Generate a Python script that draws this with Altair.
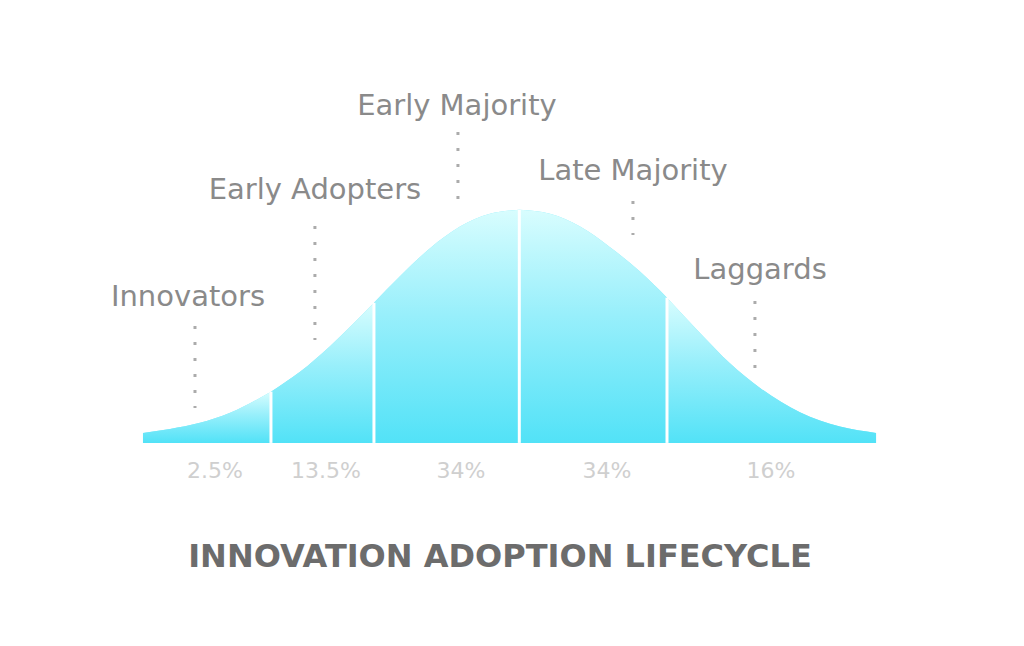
import altair as alt
import pandas as pd

# Bell curve: position in standard deviations, height as % of peak
curve_x = [-2.576, -2.391, -2.186, -1.980, -1.700, -1.501, -1.296, -0.995, -0.817, -0.611,
           -0.406, -0.201, 0.0, 0.210, 0.416, 0.621, 0.826, 1.011, 1.237, 1.442,
           1.648, 1.921, 2.195, 2.442]
curve_h = [4.3, 6.0, 8.6, 12.9, 22.0, 30.5, 41.5, 60.1, 71.5, 83.5,
           92.8, 98.3, 100.0, 98.3, 92.8, 84.0, 73.5, 62.3, 47.2, 34.2,
           23.6, 13.2, 7.0, 4.3]

segments = ["Innovators", "Early Adopters", "Early Majority", "Late Majority", "Laggards"]
bounds = [-2.576, -1.700, -0.995, 0.0, 1.011, 2.442]
shares = ["2.5%", "13.5%", "34%", "34%", "16%"]

# annotation layout (data units)
label_x = [-2.268, -1.399, -0.427, 0.778, 1.648]
label_y = [58.7, 104.7, 140.7, 112.8, 70.3]
leader_x = [-2.220, -1.399, -0.420, 0.778, 1.613]
leader_top = [50.2, 93.1, 133.4, 103.8, 60.9]
leader_bottom = [15.0, 44.2, 104.2, 89.2, 31.7]
share_x = [-2.083, -1.323, -0.399, 0.600, 1.723]
share_y = -15.0
title_text = "INNOVATION ADOPTION LIFECYCLE"
title_x = -0.132
title_y = -53.2

rows = []
for i, seg in enumerate(segments):
    lo, hi = bounds[i], bounds[i + 1]
    for x, h in zip(curve_x, curve_h):
        if lo - 1e-9 <= x <= hi + 1e-9:
            rows.append({"segment": seg, "seg_idx": i, "x": x, "h": h, "base": 0.0})
curve_df = pd.DataFrame(rows)

div_rows = []
for b in bounds[1:-1]:
    h = curve_h[min(range(len(curve_x)), key=lambda k: abs(curve_x[k] - b))]
    div_rows.append({"x": b, "h": h, "base": 0.0})
div_df = pd.DataFrame(div_rows)

lab_df = pd.DataFrame({"label": segments, "x": label_x, "y": label_y})
lead_df = pd.DataFrame({"x": leader_x, "top": leader_top, "bottom": leader_bottom})
share_df = pd.DataFrame({"t": shares, "x": share_x, "y": [share_y] * 5})
title_df = pd.DataFrame({"t": [title_text], "x": [title_x], "y": [title_y]})

xs = alt.Scale(domain=[-3.5, 3.4], nice=False, zero=False)
ys = alt.Scale(domain=[-83.7, 186.6], nice=False, zero=False)

grad = alt.Gradient(
    gradient="linear",
    stops=[alt.GradientStop(color="#d8fdfe", offset=0),
           alt.GradientStop(color="#98effb", offset=0.45),
           alt.GradientStop(color="#52e2f7", offset=1)],
    x1=1, x2=1, y1=0, y2=1,
)

base_area = alt.Chart(curve_df).mark_area(interpolate="monotone", color="#7fe9f9").encode(
    x=alt.X("x:Q", scale=xs, axis=None),
    y=alt.Y("h:Q", scale=ys, axis=None),
    y2=alt.Y2("base:Q"),
    detail="segment:N",
)

grad_area = alt.Chart(curve_df).mark_area(interpolate="monotone", color=grad).encode(
    x=alt.X("x:Q", scale=xs, axis=None),
    y=alt.Y("h:Q", scale=ys, axis=None),
    y2=alt.Y2("base:Q"),
    detail="segment:N",
)

dividers = alt.Chart(div_df).mark_rule(color="white", strokeWidth=3).encode(
    x=alt.X("x:Q", scale=xs),
    y=alt.Y("h:Q", scale=ys),
    y2="base:Q",
)

leaders = alt.Chart(lead_df).mark_rule(color="#ababab", strokeWidth=3, strokeDash=[3, 13]).encode(
    x=alt.X("x:Q", scale=xs),
    y=alt.Y("top:Q", scale=ys),
    y2="bottom:Q",
)

labels = alt.Chart(lab_df).mark_text(
    font="DejaVu Sans", fontSize=29, color="#8a8a8a", align="center", baseline="alphabetic"
).encode(
    x=alt.X("x:Q", scale=xs),
    y=alt.Y("y:Q", scale=ys),
    text="label:N",
)

share_text = alt.Chart(share_df).mark_text(
    font="DejaVu Sans", fontSize=22, color="#cfcfcf", align="center", baseline="alphabetic"
).encode(
    x=alt.X("x:Q", scale=xs),
    y=alt.Y("y:Q", scale=ys),
    text="t:N",
)

title = alt.Chart(title_df).mark_text(
    font="DejaVu Sans", fontSize=32, fontWeight="bold", color="#6c6c6c",
    align="center", baseline="alphabetic"
).encode(
    x=alt.X("x:Q", scale=xs),
    y=alt.Y("y:Q", scale=ys),
    text="t:N",
)

chart = alt.layer(base_area, grad_area, dividers, leaders, labels, share_text, title).properties(
    width=1008, height=630, padding=0,
    autosize=alt.AutoSizeParams(type="none"),
    background="white",
).configure_view(stroke=None)

chart.save("out.html", embed_options={"renderer": "svg", "actions": False})
